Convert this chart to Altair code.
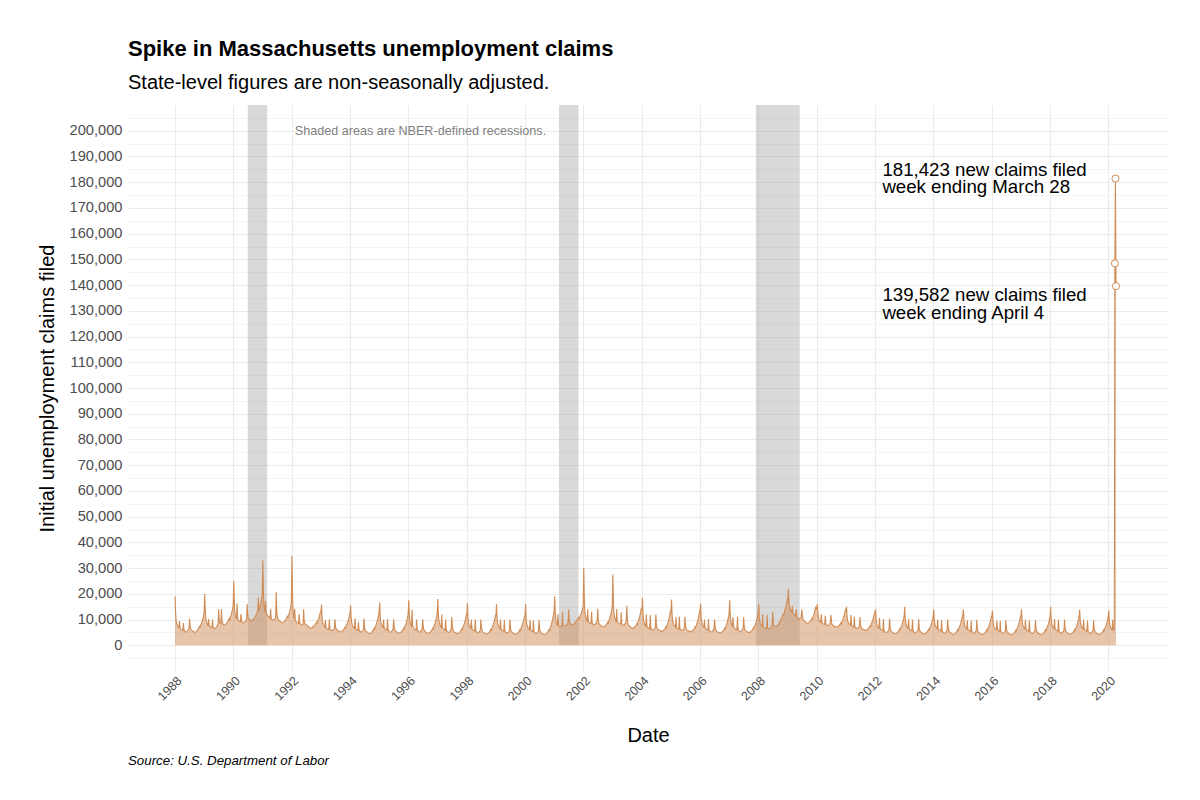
import altair as alt
import pandas as pd

ORANGE = "#D08C55"
GRID = "#EBEBEB"
FONT = "Liberation Sans"

# Massachusetts initial claims (thousands), one list per calendar year,
# one value per week ending on a Saturday.
weeks_1988 = [19.0, 12.6, 9.6, 8.5, 7.9, 7.5, 7.1, 6.8, 9.4, 6.7, 6.3, 6.0, 5.9,
              5.8, 5.7, 8.6, 6.0, 5.5, 5.3, 5.1, 5.2, 5.3, 5.5, 5.8, 6.2, 6.6,
              10.3, 7.5, 6.3, 6.0, 5.8, 5.6, 5.5, 5.3, 5.2, 5.0, 5.1, 5.2, 5.4,
              5.6, 5.9, 6.2, 6.5, 7.0, 7.4, 7.1, 7.9, 8.4, 8.9, 9.6, 10.4, 11.5, 12.6]
weeks_1989 = [20.0, 13.8, 10.4, 9.2, 8.6, 8.1, 7.8, 10.2, 7.6, 7.3, 7.1, 7.0, 7.1,
              6.9, 10.0, 7.2, 6.8, 6.6, 6.5, 6.6, 6.8, 7.1, 7.4, 7.9, 8.6, 14.0,
              10.2, 8.8, 8.5, 8.4, 14.1, 9.4, 8.6, 8.2, 8.0, 7.9, 7.8, 8.0, 8.2,
              8.5, 8.8, 9.1, 9.5, 10.0, 10.4, 9.9, 11.0, 11.6, 12.3, 13.2, 14.3, 15.6]
weeks_1990 = [25.0, 17.0, 12.8, 11.4, 10.7, 10.2, 16.2, 10.4, 9.9, 9.6, 9.4, 9.3, 9.2,
              12.1, 9.4, 9.0, 8.8, 8.7, 8.8, 9.0, 9.2, 9.5, 9.8, 10.3, 16.0, 11.8,
              10.6, 10.2, 10.0, 9.9, 9.8, 9.7, 9.6, 9.6, 9.8, 10.0, 10.3, 10.6, 11.0,
              11.4, 11.9, 12.4, 13.0, 13.6, 18.6, 13.4, 14.4, 15.2, 16.1, 17.2, 18.3, 19.5]
weeks_1991 = [33.0, 22.0, 16.0, 14.0, 13.0, 17.2, 12.4, 12.0, 11.7, 11.4, 11.2, 11.0, 10.8,
              10.6, 14.2, 10.5, 10.1, 9.9, 9.8, 9.8, 9.9, 10.1, 10.4, 10.8, 20.7, 13.0,
              11.2, 10.4, 10.0, 9.7, 9.5, 9.3, 9.1, 8.9, 8.8, 8.7, 8.8, 9.0, 9.2,
              9.4, 9.7, 10.0, 10.4, 10.8, 11.2, 10.8, 11.8, 12.4, 13.1, 14.0, 15.2, 16.8]
weeks_1992 = [34.7, 20.5, 14.0, 11.6, 10.4, 14.2, 9.8, 9.4, 9.1, 8.9, 8.7, 8.6, 8.5,
              12.1, 8.6, 8.3, 8.1, 8.0, 8.0, 8.1, 8.3, 14.0, 9.6, 8.7, 8.3, 8.1,
              7.9, 7.7, 7.5, 7.3, 7.2, 7.0, 6.9, 6.8, 6.7, 6.7, 6.8, 7.0, 7.2,
              7.4, 7.6, 7.9, 8.2, 8.6, 9.0, 8.6, 9.4, 9.9, 10.5, 11.2, 12.0, 13.0]
weeks_1993 = [13.0, 15.8, 10.8, 9.0, 8.2, 7.7, 7.3, 7.0, 9.8, 6.9, 6.6, 6.4, 6.3,
              6.2, 6.1, 10.0, 6.4, 6.0, 5.8, 5.7, 5.7, 5.8, 6.0, 6.3, 6.7, 10.1,
              7.3, 6.4, 6.0, 5.9, 5.8, 5.7, 5.5, 5.4, 5.3, 5.2, 5.3, 5.4, 5.6,
              5.8, 6.0, 6.3, 6.6, 7.0, 6.7, 7.5, 8.0, 8.5, 9.1, 9.8, 10.6, 11.8]
weeks_1994 = [12.5, 15.5, 10.6, 8.8, 8.0, 7.5, 7.1, 6.8, 6.6, 10.4, 6.4, 6.1, 5.9,
              5.8, 5.7, 9.0, 6.0, 5.6, 5.4, 5.2, 5.2, 5.3, 5.5, 5.8, 6.2, 10.4,
              7.2, 6.0, 5.6, 5.4, 5.3, 5.1, 4.9, 4.8, 4.7, 4.6, 4.6, 4.7, 4.9,
              5.1, 5.4, 5.7, 6.1, 6.5, 6.2, 7.0, 7.6, 8.2, 8.9, 9.7, 10.7, 11.9, 13.0]
weeks_1995 = [16.6, 11.2, 9.0, 8.1, 7.6, 7.2, 6.9, 10.0, 6.8, 6.5, 6.2, 6.0, 6.0,
              5.8, 10.2, 6.1, 5.6, 5.3, 5.2, 5.1, 5.2, 5.4, 5.6, 6.0, 6.5, 10.1,
              7.1, 6.0, 5.6, 5.4, 5.3, 5.1, 5.0, 4.9, 4.8, 4.7, 4.8, 4.9, 5.1,
              5.3, 5.5, 5.8, 6.2, 6.6, 6.3, 7.2, 7.8, 8.4, 9.1, 10.0, 11.0, 12.4]
weeks_1996 = [17.5, 11.8, 9.4, 8.4, 7.8, 7.4, 13.8, 7.6, 7.0, 6.6, 6.3, 6.1, 6.0,
              5.9, 10.0, 6.2, 5.7, 5.4, 5.2, 5.1, 5.2, 5.4, 5.7, 6.0, 6.4, 10.2,
              7.1, 6.0, 5.6, 5.4, 5.2, 5.1, 4.9, 4.8, 4.7, 4.6, 4.7, 4.8, 5.0,
              5.2, 5.5, 5.8, 6.2, 6.6, 6.3, 7.2, 7.8, 8.5, 9.3, 10.2, 11.3, 12.6]
weeks_1997 = [18.0, 12.0, 9.5, 8.4, 7.8, 7.3, 7.0, 12.0, 7.1, 6.6, 6.3, 6.1, 5.9,
              5.8, 10.0, 6.0, 5.5, 5.3, 5.1, 5.0, 5.1, 5.3, 5.5, 5.9, 6.3, 11.0,
              7.3, 6.0, 5.5, 5.3, 5.1, 5.0, 4.9, 4.8, 4.7, 4.6, 4.6, 4.7, 4.9,
              5.1, 5.3, 5.6, 6.0, 6.4, 6.1, 7.0, 7.6, 8.2, 8.9, 9.7, 10.8, 12.0]
weeks_1998 = [12.0, 16.4, 10.9, 8.8, 7.8, 7.3, 6.9, 6.6, 10.0, 6.5, 6.2, 5.9, 5.7,
              5.6, 5.5, 10.0, 5.8, 5.3, 5.0, 4.9, 4.9, 5.0, 5.2, 5.5, 5.9, 10.0,
              6.9, 5.8, 5.3, 5.1, 5.0, 4.8, 4.7, 4.6, 4.5, 4.4, 4.4, 4.5, 4.7,
              4.9, 5.1, 5.4, 5.8, 6.2, 5.9, 6.8, 7.4, 8.0, 8.7, 9.5, 10.5, 11.6]
weeks_1999 = [11.8, 16.0, 10.6, 8.6, 7.7, 7.2, 6.8, 6.5, 10.0, 6.4, 6.1, 5.8, 5.6,
              5.5, 5.4, 9.8, 5.7, 5.2, 4.9, 4.8, 4.8, 4.9, 5.1, 5.4, 5.8, 10.0,
              6.8, 5.7, 5.2, 5.0, 4.9, 4.7, 4.6, 4.5, 4.4, 4.3, 4.3, 4.4, 4.6,
              4.8, 5.0, 5.3, 5.7, 6.1, 5.8, 6.7, 7.3, 7.9, 8.6, 9.4, 10.3, 11.4]
weeks_2000 = [11.6, 16.0, 10.4, 8.4, 7.5, 7.0, 6.6, 6.3, 6.1, 9.8, 6.0, 5.7, 5.5,
              5.3, 5.2, 9.6, 5.4, 5.0, 4.8, 4.6, 4.6, 4.7, 4.9, 5.2, 5.6, 9.8,
              6.6, 5.5, 5.0, 4.8, 4.7, 4.5, 4.4, 4.3, 4.2, 4.2, 4.2, 4.3, 4.5,
              4.7, 5.0, 5.3, 5.7, 6.1, 5.8, 6.8, 7.4, 8.1, 8.9, 9.8, 10.9, 12.0, 13.2]
weeks_2001 = [19.0, 12.8, 10.0, 8.8, 8.2, 7.8, 12.0, 7.9, 7.6, 7.5, 7.4, 7.4, 7.5,
              7.5, 13.0, 8.0, 7.6, 7.5, 7.4, 7.4, 7.6, 7.8, 8.1, 8.5, 9.0, 14.0,
              10.2, 8.8, 8.4, 8.3, 8.2, 8.1, 8.0, 8.0, 8.1, 8.3, 8.6, 9.0, 9.3,
              9.6, 9.9, 10.2, 10.5, 10.8, 10.4, 11.2, 11.6, 12.1, 12.7, 13.4, 14.3, 15.5]
weeks_2002 = [30.0, 18.0, 13.2, 11.4, 10.5, 9.9, 9.5, 14.0, 9.4, 9.1, 8.9, 8.7, 8.6,
              8.5, 13.0, 8.7, 8.3, 8.1, 8.0, 8.0, 8.1, 8.3, 8.6, 9.0, 9.5, 14.2,
              10.0, 8.7, 8.2, 8.0, 7.8, 7.6, 7.4, 7.3, 7.2, 7.1, 7.1, 7.2, 7.4,
              7.6, 7.9, 8.2, 8.6, 9.0, 8.7, 9.6, 10.2, 10.9, 11.7, 12.6, 13.8, 15.3]
weeks_2003 = [27.5, 16.8, 12.6, 11.0, 10.2, 9.7, 9.3, 14.1, 9.2, 8.9, 8.7, 8.5, 8.4,
              8.3, 8.2, 12.8, 8.4, 8.1, 7.9, 7.8, 7.9, 8.1, 8.4, 8.8, 9.3, 15.4,
              9.8, 8.4, 7.9, 7.6, 7.4, 7.2, 7.0, 6.9, 6.7, 6.6, 6.6, 6.7, 6.9,
              7.1, 7.3, 7.6, 8.0, 8.4, 8.1, 9.0, 9.6, 10.3, 11.1, 12.0, 13.1, 14.4]
weeks_2004 = [13.5, 18.5, 12.4, 9.9, 8.8, 8.2, 7.8, 7.5, 12.0, 7.4, 7.0, 6.8, 6.6,
              6.5, 6.4, 11.8, 6.6, 6.2, 6.0, 5.9, 5.9, 6.0, 6.2, 6.5, 6.9, 12.0,
              7.9, 6.7, 6.3, 6.1, 6.0, 5.8, 5.7, 5.6, 5.5, 5.4, 5.4, 5.5, 5.7,
              5.9, 6.1, 6.4, 6.8, 7.2, 6.9, 7.8, 8.4, 9.1, 9.9, 10.8, 11.9, 13.2]
weeks_2005 = [13.0, 17.8, 11.9, 9.6, 8.6, 8.0, 7.6, 7.3, 7.1, 11.0, 7.0, 6.7, 6.5,
              6.4, 6.3, 11.2, 6.5, 6.1, 5.9, 5.8, 5.8, 5.9, 6.1, 6.4, 6.8, 11.1,
              7.6, 6.5, 6.1, 5.9, 5.8, 5.6, 5.5, 5.4, 5.3, 5.3, 5.3, 5.4, 5.6,
              5.8, 6.0, 6.3, 6.7, 7.1, 6.8, 7.6, 8.2, 8.9, 9.6, 10.5, 11.6, 12.8, 13.6]
weeks_2006 = [16.2, 11.2, 9.1, 8.2, 7.7, 7.3, 7.0, 10.0, 6.9, 6.6, 6.3, 6.1, 6.0,
              5.9, 10.2, 6.1, 5.7, 5.4, 5.3, 5.2, 5.3, 5.5, 5.7, 6.1, 6.5, 10.0,
              7.1, 6.0, 5.6, 5.4, 5.3, 5.1, 5.0, 4.9, 4.8, 4.8, 4.8, 4.9, 5.1,
              5.3, 5.5, 5.8, 6.2, 6.6, 6.3, 7.2, 7.8, 8.5, 9.2, 10.1, 11.2, 12.4]
weeks_2007 = [17.5, 11.9, 9.5, 8.5, 7.9, 7.5, 11.0, 7.4, 7.0, 6.7, 6.4, 6.2, 6.1,
              6.0, 11.2, 6.2, 5.8, 5.5, 5.4, 5.3, 5.4, 5.6, 5.8, 6.2, 6.6, 11.0,
              7.4, 6.2, 5.8, 5.6, 5.4, 5.3, 5.2, 5.1, 5.0, 5.0, 5.0, 5.2, 5.4,
              5.6, 5.8, 6.1, 6.5, 6.9, 6.6, 7.5, 8.1, 8.7, 9.5, 10.4, 11.5, 12.8]
weeks_2008 = [16.0, 11.2, 9.2, 8.3, 7.8, 7.5, 7.3, 12.0, 7.3, 7.0, 6.8, 6.7, 6.6,
              6.6, 6.5, 11.8, 6.8, 6.5, 6.4, 6.4, 6.5, 6.7, 7.0, 7.4, 7.9, 13.0,
              9.0, 7.8, 7.5, 7.4, 7.4, 7.4, 7.5, 7.6, 7.8, 8.1, 8.4, 8.8, 9.2,
              9.7, 10.2, 10.7, 11.2, 11.7, 12.2, 11.8, 13.0, 13.8, 14.6, 15.5, 16.5, 17.8]
weeks_2009 = [17.5, 22.0, 17.2, 15.0, 14.2, 13.6, 13.2, 12.9, 15.2, 12.6, 12.3, 12.0, 11.8,
              11.6, 11.4, 14.0, 11.2, 10.8, 10.5, 10.3, 10.2, 10.3, 10.5, 10.8, 11.2, 14.0,
              11.5, 10.4, 9.9, 9.6, 9.4, 9.2, 9.0, 8.8, 8.7, 8.6, 8.6, 8.7, 8.9,
              9.1, 9.3, 9.6, 10.0, 10.4, 10.1, 11.0, 11.6, 12.3, 13.1, 14.0, 15.0, 14.2]
weeks_2010 = [14.5, 16.0, 12.2, 10.6, 9.8, 9.4, 9.1, 8.9, 12.0, 8.8, 8.6, 8.4, 8.3,
              8.2, 8.1, 11.5, 8.3, 8.0, 7.8, 7.7, 7.7, 7.8, 8.0, 8.3, 8.7, 11.8,
              9.2, 8.3, 7.9, 7.7, 7.6, 7.5, 7.4, 7.3, 7.2, 7.1, 7.1, 7.2, 7.3,
              7.5, 7.7, 8.0, 8.3, 8.7, 8.4, 9.2, 9.7, 10.3, 11.0, 11.8, 12.7, 13.8]
weeks_2011 = [13.5, 15.0, 11.2, 9.6, 8.9, 8.5, 8.2, 8.0, 7.9, 11.8, 7.8, 7.5, 7.3,
              7.2, 7.1, 11.2, 7.3, 6.9, 6.7, 6.6, 6.6, 6.7, 6.9, 7.2, 7.6, 11.0,
              8.0, 7.0, 6.6, 6.4, 6.3, 6.2, 6.1, 6.0, 5.9, 5.8, 5.8, 5.9, 6.1,
              6.3, 6.5, 6.8, 7.1, 7.5, 7.2, 8.0, 8.6, 9.2, 9.9, 10.7, 11.6, 12.6, 13.0]
weeks_2012 = [14.0, 10.0, 8.3, 7.5, 7.1, 6.8, 6.6, 10.6, 6.6, 6.3, 6.0, 5.8, 5.7,
              5.6, 10.2, 5.8, 5.4, 5.1, 5.0, 4.9, 5.0, 5.2, 5.4, 5.7, 6.1, 10.4,
              6.9, 5.8, 5.4, 5.2, 5.0, 4.9, 4.8, 4.7, 4.6, 4.5, 4.5, 4.6, 4.8,
              5.0, 5.2, 5.5, 5.9, 6.3, 6.0, 6.8, 7.3, 7.9, 8.6, 9.4, 10.3, 11.4]
weeks_2013 = [15.0, 10.6, 8.6, 7.7, 7.2, 6.9, 6.6, 10.2, 6.6, 6.3, 6.0, 5.8, 5.7,
              5.6, 10.0, 5.8, 5.3, 5.1, 4.9, 4.8, 4.9, 5.1, 5.3, 5.6, 6.0, 10.2,
              6.8, 5.7, 5.3, 5.1, 4.9, 4.8, 4.7, 4.6, 4.5, 4.4, 4.4, 4.5, 4.7,
              4.9, 5.1, 5.4, 5.8, 6.2, 5.9, 6.7, 7.2, 7.8, 8.5, 9.3, 10.2, 11.2]
weeks_2014 = [14.0, 10.0, 8.2, 7.4, 7.0, 6.7, 6.5, 10.0, 6.5, 6.2, 5.9, 5.7, 5.6,
              5.5, 9.8, 5.7, 5.2, 5.0, 4.8, 4.7, 4.8, 5.0, 5.2, 5.5, 5.9, 10.0,
              6.6, 5.6, 5.2, 5.0, 4.8, 4.7, 4.6, 4.5, 4.4, 4.3, 4.3, 4.4, 4.6,
              4.8, 5.0, 5.3, 5.7, 6.1, 5.8, 6.6, 7.1, 7.7, 8.4, 9.2, 10.1, 11.1]
weeks_2015 = [12.0, 14.0, 9.8, 8.0, 7.2, 6.8, 6.5, 6.3, 9.8, 6.3, 6.0, 5.8, 5.6,
              5.5, 5.4, 9.6, 5.6, 5.1, 4.9, 4.7, 4.7, 4.8, 5.0, 5.3, 5.7, 9.9,
              6.5, 5.5, 5.1, 4.9, 4.7, 4.6, 4.5, 4.4, 4.3, 4.2, 4.2, 4.3, 4.5,
              4.7, 4.9, 5.2, 5.6, 6.0, 5.7, 6.5, 7.0, 7.6, 8.3, 9.1, 10.0, 11.0]
weeks_2016 = [11.5, 13.5, 9.5, 7.8, 7.1, 6.7, 6.4, 6.2, 6.1, 9.6, 6.1, 5.8, 5.6,
              5.4, 5.3, 9.4, 5.5, 5.0, 4.8, 4.6, 4.6, 4.7, 4.9, 5.2, 5.6, 9.7,
              6.4, 5.4, 5.0, 4.8, 4.6, 4.5, 4.4, 4.3, 4.2, 4.1, 4.1, 4.2, 4.4,
              4.6, 4.8, 5.1, 5.5, 5.9, 5.6, 6.4, 6.9, 7.5, 8.2, 9.0, 9.9, 10.9, 11.8]
weeks_2017 = [14.0, 9.9, 8.1, 7.3, 6.9, 6.6, 6.4, 9.9, 6.4, 6.1, 5.8, 5.6, 5.5,
              5.4, 9.7, 5.6, 5.1, 4.9, 4.7, 4.6, 4.7, 4.9, 5.1, 5.4, 5.8, 9.8,
              6.5, 5.5, 5.1, 4.9, 4.7, 4.6, 4.5, 4.4, 4.3, 4.2, 4.2, 4.3, 4.5,
              4.7, 4.9, 5.2, 5.6, 6.0, 5.7, 6.5, 7.0, 7.6, 8.3, 9.1, 10.0, 11.1]
weeks_2018 = [15.0, 10.4, 8.4, 7.5, 7.0, 6.7, 6.5, 10.2, 6.5, 6.2, 5.9, 5.7, 5.6,
              5.5, 9.9, 5.7, 5.2, 5.0, 4.8, 4.7, 4.8, 5.0, 5.2, 5.5, 5.9, 10.0,
              6.6, 5.6, 5.2, 5.0, 4.8, 4.7, 4.6, 4.5, 4.4, 4.3, 4.3, 4.4, 4.6,
              4.8, 5.0, 5.3, 5.7, 6.1, 5.8, 6.6, 7.1, 7.7, 8.4, 9.2, 10.1, 11.1]
weeks_2019 = [13.8, 9.8, 8.1, 7.3, 6.9, 6.6, 6.4, 9.9, 6.4, 6.1, 5.8, 5.6, 5.5,
              5.4, 9.6, 5.6, 5.1, 4.9, 4.7, 4.6, 4.7, 4.9, 5.1, 5.4, 5.8, 9.7,
              6.4, 5.5, 5.1, 4.9, 4.7, 4.6, 4.5, 4.4, 4.3, 4.2, 4.2, 4.3, 4.5,
              4.7, 4.9, 5.2, 5.6, 6.0, 5.7, 6.5, 7.0, 7.6, 8.3, 9.1, 10.0, 11.0]
weeks_2020 = [13.5, 9.4, 7.8, 7.0, 6.6, 6.3, 6.1, 10.0, 6.2, 5.9, 7.1,
              148.452, 181.423, 139.582]

WEEKLY = {
    1988: weeks_1988, 1989: weeks_1989, 1990: weeks_1990, 1991: weeks_1991,
    1992: weeks_1992, 1993: weeks_1993, 1994: weeks_1994, 1995: weeks_1995,
    1996: weeks_1996, 1997: weeks_1997, 1998: weeks_1998, 1999: weeks_1999,
    2000: weeks_2000, 2001: weeks_2001, 2002: weeks_2002, 2003: weeks_2003,
    2004: weeks_2004, 2005: weeks_2005, 2006: weeks_2006, 2007: weeks_2007,
    2008: weeks_2008, 2009: weeks_2009, 2010: weeks_2010, 2011: weeks_2011,
    2012: weeks_2012, 2013: weeks_2013, 2014: weeks_2014, 2015: weeks_2015,
    2016: weeks_2016, 2017: weeks_2017, 2018: weeks_2018, 2019: weeks_2019,
    2020: weeks_2020,
}

# NBER recessions
recession_start = ["1990-07-01", "2001-03-01", "2007-12-01"]
recession_end = ["1991-03-01", "2001-11-01", "2009-06-01"]

x_tick_years = list(range(1988, 2021, 2))
y_grid_values = list(range(-5000, 205001, 5000))

rows = []
for year, values in WEEKLY.items():
    saturdays = pd.date_range(f"{year}-01-01", f"{year}-12-31", freq="W-SAT")
    for day, v in zip(saturdays, values):
        rows.append({"date": day.strftime("%Y-%m-%d"), "claims": int(round(v * 1000))})
claims = pd.DataFrame(rows)

recessions = pd.DataFrame({"start": recession_start, "end": recession_end})
highlight = claims.tail(3)

peak = claims.iloc[-2]
latest = claims.iloc[-1]
label_date = "2012-04-01"


def label_for(row):
    day = pd.Timestamp(row["date"])
    return f"{row['claims']:,} new claims filed\nweek ending {day.strftime('%B')} {day.day}"


peak_note = pd.DataFrame({"date": [label_date], "claims": [peak["claims"]],
                          "label": [label_for(peak)]})
latest_note = pd.DataFrame({"date": [label_date], "claims": [latest["claims"]],
                            "label": [label_for(latest)]})
recession_note = pd.DataFrame({"date": ["1996-06-01"], "claims": [200000],
                               "label": ["Shaded areas are NBER-defined recessions."]})
caption = pd.DataFrame({"label": ["Source: U.S. Department of Labor"]})

PLOT_W, PLOT_H = 1040, 566
LINE_H = 17.7

x_scale = alt.Scale(
    type="utc",
    domain=[alt.DateTime(year=1986, month=5, date=23, utc=True),
            alt.DateTime(year=2022, month=1, date=15, utc=True)],
)
y_scale = alt.Scale(domain=[-10000, 210000], nice=False, zero=False)

x_axis = alt.Axis(
    values=[alt.DateTime(year=y, month=1, date=1, utc=True) for y in x_tick_years],
    format="%Y", labelAngle=-45, labelAlign="right", labelBaseline="top",
    labelPadding=3, labelFontSize=12.5, labelColor="#4D4D4D", labelOverlap=False,
    labelFlush=False, ticks=False, domain=False, grid=True, gridColor=GRID,
    gridWidth=1.1, title="Date", titleFontSize=20, titleFontWeight="normal",
    titleColor="black", titlePadding=23,
)
y_axis = alt.Axis(
    values=y_grid_values,
    labelExpr="datum.value % 10000 === 0 ? format(datum.value, ',') : ''",
    labelFontSize=14.67, labelColor="#4D4D4D", labelPadding=6, labelOverlap=False,
    ticks=False, domain=False, grid=True, gridColor=GRID,
    gridWidth={"condition": {"test": "datum.value % 10000 !== 0", "value": 0.55},
               "value": 1.1},
    title="Initial unemployment claims filed", titleFontSize=20,
    titleFontWeight="normal", titleColor="black", titlePadding=12,
)

X = alt.X("date:T", scale=x_scale, axis=x_axis)
Y = alt.Y("claims:Q", scale=y_scale, axis=y_axis)

# recession bands run from zero claims up to the top of the panel
shading = alt.Chart(recessions).mark_rect(color="#A0A0A0", opacity=0.4).encode(
    x=alt.X("start:T", scale=x_scale, axis=x_axis),
    x2="end:T",
    y=alt.Y(datum=0, type="quantitative", scale=y_scale, axis=y_axis),
    y2=alt.value(0),
)

area = alt.Chart(claims).mark_area(color=ORANGE, opacity=0.5).encode(x=X, y=Y)
line = alt.Chart(claims).mark_line(color=ORANGE, strokeWidth=1.1).encode(x=X, y=Y)
points = alt.Chart(highlight).mark_point(
    shape="circle", filled=True, fill="white", stroke=ORANGE, strokeWidth=1,
    size=50, opacity=1,
).encode(x=X, y=Y)

peak_text = alt.Chart(peak_note).mark_text(
    align="left", baseline="middle", fontSize=18.67, lineHeight=LINE_H,
    lineBreak="\n", color="black", dy=-LINE_H / 2,
).encode(x=X, y=Y, text="label:N")
latest_text = alt.Chart(latest_note).mark_text(
    align="left", baseline="top", fontSize=18.67, lineHeight=LINE_H,
    lineBreak="\n", color="black",
).encode(x=X, y=Y, text="label:N")
recession_text = alt.Chart(recession_note).mark_text(
    align="center", baseline="middle", fontSize=12.6, color="#7F7F7F",
).encode(x=X, y=Y, text="label:N")
source_text = alt.Chart(caption).mark_text(
    align="left", baseline="alphabetic", fontSize=13.3, fontStyle="italic",
    color="black",
).encode(x=alt.value(0), y=alt.value(PLOT_H + 94), text="label:N")

chart = alt.layer(
    shading, area, line, points, peak_text, latest_text, recession_text, source_text
).properties(
    width=PLOT_W,
    height=PLOT_H,
    autosize=alt.AutoSizeParams(type="none"),
    padding={"left": 128, "top": 105, "right": 32, "bottom": 129},
    background="white",
    title=alt.TitleParams(
        text="Spike in Massachusetts unemployment claims",
        subtitle="State-level figures are non-seasonally adjusted.",
        anchor="start", frame="group", fontSize=22, fontWeight="bold",
        subtitleFontSize=20, color="black", subtitleColor="black",
        offset=11, subtitlePadding=12,
    ),
).configure(font=FONT).configure_view(strokeOpacity=0)

chart.save("out.html", embed_options={"renderer": "svg", "actions": False})
